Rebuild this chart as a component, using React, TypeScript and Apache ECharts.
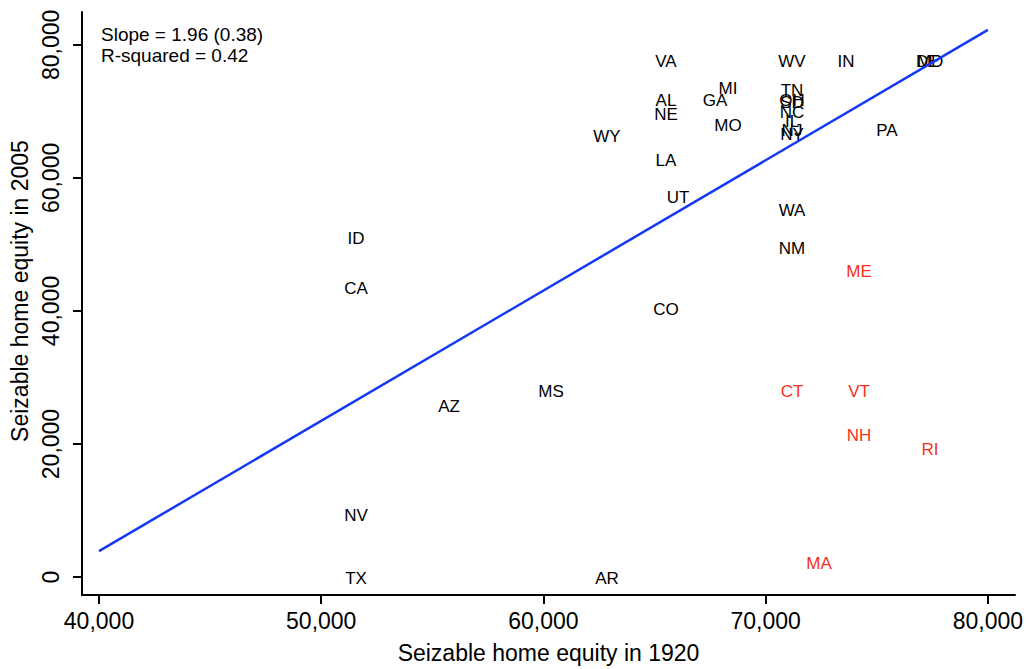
import React, { useEffect, useRef } from "react";
import * as echarts from "echarts";

const states = ["VA","WV","IN","DE","MD","AL","NE","GA","MI","MO","WY","LA","UT","TN","OH","SD","NC","IL","NJ","NY","PA","WA","NM","ME","ID","CA","CO","MS","AZ","CT","VT","NH","RI","NV","TX","AR","MA"];
const equity1920 = [65515,71185,73615,77300,77400,65515,65515,67720,68305,68305,62860,65515,66055,71185,71185,71185,71185,71185,71185,71185,75460,71185,71185,74200,51565,51565,65515,60340,55750,71185,74200,74200,77395,51565,51565,62860,72400];
const equity2005 = [77450,77450,77450,77450,77450,71610,69510,71610,73410,67860,66220,62620,57080,73110,71610,71310,69810,68460,67110,66520,67120,55130,49440,45990,50940,43450,40150,27870,25620,27870,27870,21270,19180,9290,-150,-150,2100];
const newEngland = ["ME","CT","VT","NH","RI","MA"];
const fitX = [40000, 80000];
const fitY = [3895, 82247];
const xTicks = [40000, 50000, 60000, 70000, 80000];
const yTicks = [0, 20000, 40000, 60000, 80000];
const annotation = ["Slope = 1.96 (0.38)", "R-squared = 0.42"];

const FONT = "Liberation Sans, Arial, Helvetica, sans-serif";

export default function App() {
  const ref = useRef<HTMLDivElement>(null);
  useEffect(() => {
    document.body.style.margin = "0";
    const chart = echarts.init(ref.current!, undefined, { renderer: "svg" });
    const fmt = (v: number) => v.toLocaleString("en-US");
    const points = states.map((s, i) => ({
      name: s,
      value: [equity1920[i], equity2005[i]],
      label: { color: newEngland.includes(s) ? "#f5311b" : "#000000" },
    }));
    chart.setOption({
      animation: false,
      backgroundColor: "#ffffff",
      textStyle: { fontFamily: FONT },
      grid: { left: 82, top: 12, right: 14, bottom: 72, containLabel: false },
      xAxis: {
        type: "value",
        min: 39235,
        max: 81220,
        splitLine: { show: false },
        axisLine: { show: true, onZero: false, lineStyle: { color: "#000", width: 2 } },
        axisTick: { show: true, length: 9, customValues: xTicks, lineStyle: { color: "#000", width: 2 } },
        axisLabel: { customValues: xTicks, formatter: fmt, fontSize: 23, color: "#000", margin: 14, fontFamily: FONT, showMinLabel: true, showMaxLabel: true },
        name: "Seizable home equity in 1920",
        nameLocation: "middle",
        nameGap: 46,
        nameTextStyle: { fontSize: 23, color: "#000", fontFamily: FONT },
      },
      yAxis: {
        type: "value",
        min: -2697,
        max: 84944,
        splitLine: { show: false },
        axisLine: { show: true, onZero: false, lineStyle: { color: "#000", width: 2 } },
        axisTick: { show: true, length: 9, customValues: yTicks, lineStyle: { color: "#000", width: 2 } },
        axisLabel: { customValues: yTicks, formatter: fmt, fontSize: 23, color: "#000", margin: 20, rotate: 90, fontFamily: FONT, showMinLabel: true, showMaxLabel: true },
      },
      graphic: [
        {
          type: "text",
          x: 20,
          y: 291,
          rotation: Math.PI / 2,
          style: { text: "Seizable home equity in 2005", fontSize: 23, fill: "#000", fontFamily: FONT, align: "center", verticalAlign: "middle" },
        },
        {
          type: "text",
          left: 101,
          top: 24,
          style: { text: annotation.join("\n"), fontSize: 19, lineHeight: 21, fill: "#000", fontFamily: FONT },
        },
      ],
      series: [
        {
          type: "line",
          data: fitX.map((x, i) => [x, fitY[i]]),
          symbol: "none",
          lineStyle: { color: "#1538f5", width: 2.5 },
          z: 3,
        },
        {
          type: "scatter",
          data: points,
          symbolSize: 1,
          itemStyle: { color: "rgba(0,0,0,0)" },
          labelLayout: { hideOverlap: false },
          label: {
            show: true,
            position: "inside",
            offset: [0, 1.5],
            formatter: (p: any) => p.name,
            fontSize: 17,
            fontFamily: FONT,
            textBorderWidth: 0,
            textBorderColor: "transparent",
            opacity: 1,
          },
          emphasis: { disabled: true },
          z: 2,
        },
      ],
    });
    return () => chart.dispose();
  }, []);
  return <div ref={ref} style={{ width: 1029, height: 669 }} />;
}
